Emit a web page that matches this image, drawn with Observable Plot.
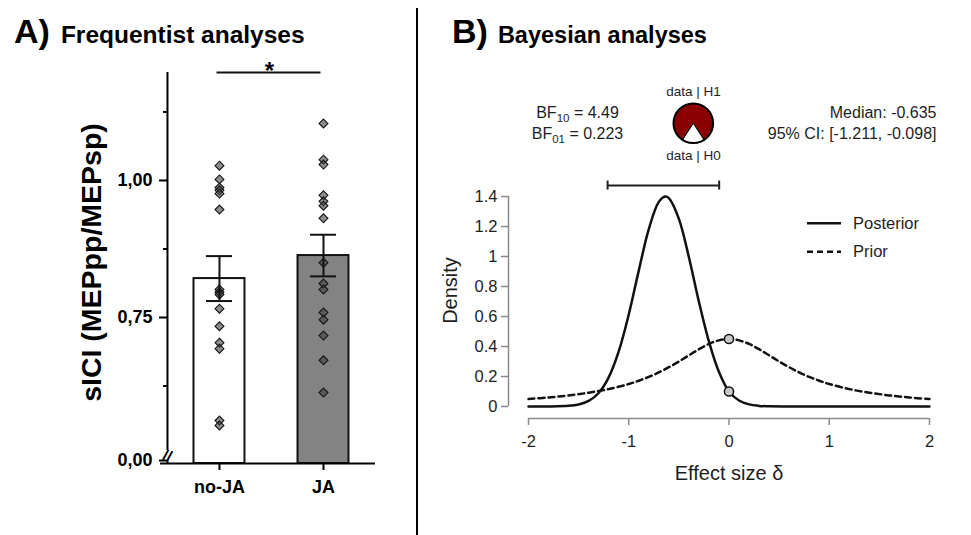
<!DOCTYPE html>
<html><head><meta charset="utf-8">
<script src="https://cdn.jsdelivr.net/npm/d3@7"></script>
<script src="https://cdn.jsdelivr.net/npm/@observablehq/plot@0.6"></script>
<style>
body{margin:0;background:#fff;font-family:"Liberation Sans",Arial,sans-serif;}
#wrap{position:relative;width:971px;height:535px;overflow:hidden;background:#fff;}
.panel{position:absolute;top:0;}
.title{position:absolute;font-weight:bold;white-space:nowrap;line-height:1;color:#000;font-size:34px;}
.title .small{font-size:23.5px;margin-left:10px;}
#titleA .small{font-size:24.5px;margin-left:11px;}
#divider{position:absolute;left:416px;top:8px;width:1.5px;height:527px;background:#000;}
</style></head>
<body><div id="wrap">
<div id="left" class="panel" style="left:0"></div>
<div id="right" class="panel" style="left:417px"></div>
<div id="divider"></div>
<div id="titleA" class="title" style="left:14px;top:14px"><span>A)</span><span class="small">Frequentist analyses</span></div>
<div class="title" style="left:452px;top:14px"><span>B)</span><span class="small">Bayesian analyses</span></div>
</div>
<script>
// ---------- Panel A data ----------
const groups = ["no-JA", "JA"];
const noJAValues = [1.027, 1.002, 0.987, 0.982, 0.976, 0.947, 0.801, 0.796, 0.792, 0.766, 0.734, 0.704, 0.693, 0.562, 0.553];
const JAValues = [1.104, 1.038, 1.029, 0.973, 0.962, 0.954, 0.931, 0.850, 0.812, 0.801, 0.759, 0.746, 0.717, 0.672, 0.613];
const groupMeans = [0.821, 0.863];
const groupSEM = [0.041, 0.038];
const yMajorTicks = [0.75, 1.00];
const yMajorLabels = ["0,75", "1,00"];
const yMinorTicks = [0.625, 0.875, 1.125];
const breakTickLabel = "0,00";
const yLabelA = "sICI (MEPpp/MEPsp)";
const sigLabel = "*";
const barFills = ["#ffffff", "#838383"];

// ---------- Panel B data ----------
const postX = [-2, -1.8, -1.6, -1.5, -1.4, -1.3, -1.2, -1.1, -1.0, -0.9, -0.8, -0.7, -0.635, -0.6, -0.5, -0.4, -0.3, -0.2, -0.1, 0, 0.1, 0.2, 0.3, 0.4, 0.6, 1.0, 1.5, 2.0];
const postDensity = [0, 0.0003, 0.0044, 0.0136, 0.037, 0.090, 0.194, 0.367, 0.613, 0.906, 1.183, 1.364, 1.40, 1.389, 1.251, 0.995, 0.698, 0.433, 0.230, 0.100, 0.040, 0.014, 0.004, 0.001, 0, 0, 0, 0];
const priorX = [-2, -1.8, -1.6, -1.4, -1.2, -1.0, -0.9, -0.8, -0.7, -0.6, -0.5, -0.4, -0.3, -0.2, -0.1, 0, 0.1, 0.2, 0.3, 0.4, 0.5, 0.6, 0.7, 0.8, 0.9, 1.0, 1.2, 1.4, 1.6, 1.8, 2.0];
const priorDensity = [0.050, 0.060, 0.074, 0.092, 0.116, 0.150, 0.172, 0.197, 0.227, 0.262, 0.300, 0.341, 0.382, 0.417, 0.441, 0.450, 0.441, 0.417, 0.382, 0.341, 0.300, 0.262, 0.227, 0.197, 0.172, 0.150, 0.116, 0.092, 0.074, 0.060, 0.050];
const bf10 = "4.49", bf01 = "0.223";
const medianText = "-0.635";
const ciLow = -1.211, ciHigh = -0.098;
const densityTicks = [0, 0.2, 0.4, 0.6, 0.8, 1.0, 1.2, 1.4];
const effectTicks = [-2, -1, 0, 1, 2];
const legendItems = [{label: "Posterior", dash: null}, {label: "Prior", dash: "6,4"}];
const pieLabels = ["data | H1", "data | H0"];

const FONT = "Liberation Sans, Arial, sans-serif";

// ---------- Panel A ----------
{
  const yBase = 0.4836, yTop = 1.197, yZeroTick = 0.489;
  const bars = groups.map((g, i) => ({i, g, mean: groupMeans[i], sem: groupSEM[i]}));
  const pts = [
    ...noJAValues.map(v => ({i: 0, v})),
    ...JAValues.map(v => ({i: 1, v}))
  ];
  const caps = bars.flatMap(b => [{i: b.i, v: b.mean - b.sem}, {i: b.i, v: b.mean + b.sem}]);
  const majorTicks = [yZeroTick, ...yMajorTicks];
  const majorLabels = [breakTickLabel, ...yMajorLabels];
  const chart = Plot.plot({
    width: 416, height: 535,
    marginLeft: 160, marginRight: 41, marginTop: 72, marginBottom: 72,
    style: {fontFamily: FONT, color: "#000", background: "transparent"},
    x: {domain: [-0.567, 1.5], axis: null},
    y: {domain: [yBase, yTop], axis: null},
    marks: [
      Plot.rect(bars, {x1: d => d.i - 0.245, x2: d => d.i + 0.245, y1: yBase, y2: "mean", fill: d => barFills[d.i], stroke: "#111", strokeWidth: 2}),
      Plot.dot(pts, {x: "i", y: "v", symbol: "diamond2", r: 4, fill: "#404040", fillOpacity: 0.6, stroke: "#151515", strokeWidth: 1.1}),
      Plot.ruleX(bars, {x: "i", y1: d => d.mean - d.sem, y2: d => d.mean + d.sem, stroke: "#111", strokeWidth: 2}),
      Plot.ruleY(caps, {y: "v", x1: d => d.i - 0.125, x2: d => d.i + 0.125, stroke: "#111", strokeWidth: 2}),
      Plot.ruleX([-0.5], {y1: 0.5073, y2: yTop, stroke: "#000", strokeWidth: 2}),
      Plot.ruleX([-0.5], {y1: yBase, y2: yZeroTick, stroke: "#000", strokeWidth: 2}),
      Plot.text(["//"], {x: [-0.5], y: [0.4975], text: d => d, fontSize: 15, fontWeight: "bold", rotate: 18, fill: "#000"}),
      Plot.axisY({ticks: majorTicks, label: null, tickFormat: d => majorLabels[majorTicks.indexOf(d)], tickSize: 8, tickPadding: 7, dx: 7, fontSize: 18, fontWeight: "bold", strokeWidth: 2, stroke: "#000", fill: "#000"}),
      Plot.axisY({ticks: yMinorTicks, label: null, tickFormat: () => "", tickSize: 4, dx: 7, strokeWidth: 2, stroke: "#000"}),
      Plot.ruleY([yBase], {stroke: "#000", strokeWidth: 2}),
      Plot.axisX({ticks: [0, 1], label: null, tickFormat: i => groups[i], tickSize: 7, tickPadding: 10, fontSize: 18, fontWeight: "bold", strokeWidth: 2, stroke: "#000", fill: "#000"}),
      Plot.ruleY([yTop], {x1: 0, x2: 1, dx: -2.5, stroke: "#111", strokeWidth: 2}),
      Plot.text([sigLabel], {x: [0.5], y: [yTop], text: d => d, fontSize: 24, fontWeight: "bold", lineAnchor: "bottom", dy: 6, dx: -2, fill: "#000"}),
      Plot.text([yLabelA], {frameAnchor: "left", textAnchor: "middle", lineAnchor: "middle", text: d => d, dx: -69, dy: -5.5, rotate: -90, fontSize: 28.5, fontWeight: "bold", fill: "#000"})
    ]
  });
  document.getElementById("left").appendChild(chart);
}

// ---------- Panel B ----------
{
  const ML = 111, MT = 196;
  const posterior = postX.map((x, k) => ({x, y: postDensity[k]}));
  const prior = priorX.map((x, k) => ({x, y: priorDensity[k]}));
  const atZero = [priorDensity[priorX.indexOf(0)], postDensity[postX.indexOf(0)]];
  const ciBarY = 1.473;
  const gray = "#8a8a8a", ink = "#1e1e1e";
  const at = (txt, px, py, o = {}) => Plot.text([txt], {frameAnchor: "top-left", text: d => d, dx: px - ML, dy: py - MT, fontSize: 16, fill: ink, ...o});
  const pieMark = () => {
    const h1 = +bf10 / (+bf10 + 1);
    const a0 = 2 * Math.PI * (1 - h1);
    const g = d3.create("svg:g").attr("transform", "translate(276.3,123.3)");
    const arcs = d3.pie().sort(null).startAngle(Math.PI + a0 / 2).endAngle(3 * Math.PI + a0 / 2)([h1, 1 - h1]);
    const arc = d3.arc().innerRadius(0).outerRadius(19.8);
    g.selectAll("path").data(arcs).join("path").attr("d", arc).attr("fill", (d, k) => k === 0 ? "#8b0000" : "#ffffff").attr("stroke", "#000").attr("stroke-width", 1);
    g.append("circle").attr("r", 19.8).attr("fill", "none").attr("stroke", "#000").attr("stroke-width", 2);
    return g.node();
  };
  const legendMark = () => {
    const g = d3.create("svg:g");
    legendItems.forEach((item, k) => {
      const y = 223.3 + k * 28.4;
      g.append("line").attr("x1", 390).attr("x2", 424).attr("y1", y).attr("y2", y)
        .attr("stroke", "#111").attr("stroke-width", 2.5).attr("stroke-dasharray", item.dash);
      g.append("text").attr("x", 436).attr("y", y).attr("dy", "0.35em").attr("text-anchor", "start")
        .attr("font-size", 16.5).attr("fill", ink).text(item.label);
    });
    return g.node();
  };
  const chart = Plot.plot({
    width: 554, height: 535,
    marginLeft: ML, marginRight: 42, marginTop: MT, marginBottom: 129,
    style: {fontFamily: FONT, color: ink, background: "transparent"},
    x: {domain: [-2, 2], axis: null},
    y: {domain: [0, 1.4], axis: null},
    marks: [
      Plot.ruleX([-2], {y1: 0, y2: 1.4, dx: -20, stroke: gray, strokeWidth: 1.5}),
      Plot.axisY({ticks: densityTicks, label: null, tickFormat: d => String(+d.toFixed(1)), tickSize: 7, tickPadding: 4, dx: -20, stroke: gray, strokeWidth: 1.5, fill: ink, fontSize: 16.5}),
      Plot.ruleY([0], {x1: -2, x2: 2, dy: 12, stroke: gray, strokeWidth: 1.5}),
      Plot.axisX({ticks: effectTicks, label: null, tickFormat: d => String(d), tickSize: 7, tickPadding: 10, dy: 12, stroke: gray, strokeWidth: 1.5, fill: ink, fontSize: 16.5}),
      Plot.line(prior, {x: "x", y: "y", curve: "catmull-rom", stroke: "#111", strokeWidth: 2.5, strokeDasharray: "6,4"}),
      Plot.line(posterior, {x: "x", y: "y", curve: "catmull-rom", stroke: "#111", strokeWidth: 2.5}),
      Plot.dot(atZero, {x: 0, y: d => d, r: 4.6, fill: "#c8c8c8", stroke: "#111", strokeWidth: 1.5}),
      Plot.ruleY([ciBarY], {x1: ciLow, x2: ciHigh, stroke: ink, strokeWidth: 2}),
      Plot.ruleX([ciLow, ciHigh], {y1: ciBarY - 0.03, y2: ciBarY + 0.03, stroke: ink, strokeWidth: 2}),
      Plot.text(["Density"], {frameAnchor: "left", textAnchor: "middle", lineAnchor: "middle", text: d => d, dx: -78, dy: -11, rotate: -90, fontSize: 20, fill: ink}),
      Plot.text(["Effect size \u03b4"], {frameAnchor: "bottom", lineAnchor: "middle", text: d => d, dy: 67, fontSize: 20, fill: ink}),
      at(`BF10 = ${bf10}`, 160, 112, {textAnchor: "middle", lineAnchor: "middle"}),
      at(`BF01 = ${bf01}`, 160, 133, {textAnchor: "middle", lineAnchor: "middle"}),
      at(`Median: ${medianText}`, 519, 112, {textAnchor: "end", lineAnchor: "middle"}),
      at(`95% CI: [${ciLow}, ${ciHigh}]`, 519, 133, {textAnchor: "end", lineAnchor: "middle"}),
      at(pieLabels[0], 276, 91.5, {textAnchor: "middle", lineAnchor: "middle", fontSize: 13.5}),
      at(pieLabels[1], 276, 155, {textAnchor: "middle", lineAnchor: "middle", fontSize: 13.5}),
      pieMark,
      legendMark
    ]
  });
  chart.querySelectorAll("text").forEach(t => {
    const s = t.textContent;
    const m = s.match(/^BF(10|01)( = .*)$/);
    if (m) {
      t.textContent = "BF";
      const sub = document.createElementNS("http://www.w3.org/2000/svg", "tspan");
      sub.setAttribute("dy", "4"); sub.setAttribute("font-size", "11.5"); sub.textContent = m[1];
      const rest = document.createElementNS("http://www.w3.org/2000/svg", "tspan");
      rest.setAttribute("dy", "-4"); rest.textContent = m[2];
      t.appendChild(sub); t.appendChild(rest);
    }
  });
  document.getElementById("right").appendChild(chart);
}
</script>
</body></html>
